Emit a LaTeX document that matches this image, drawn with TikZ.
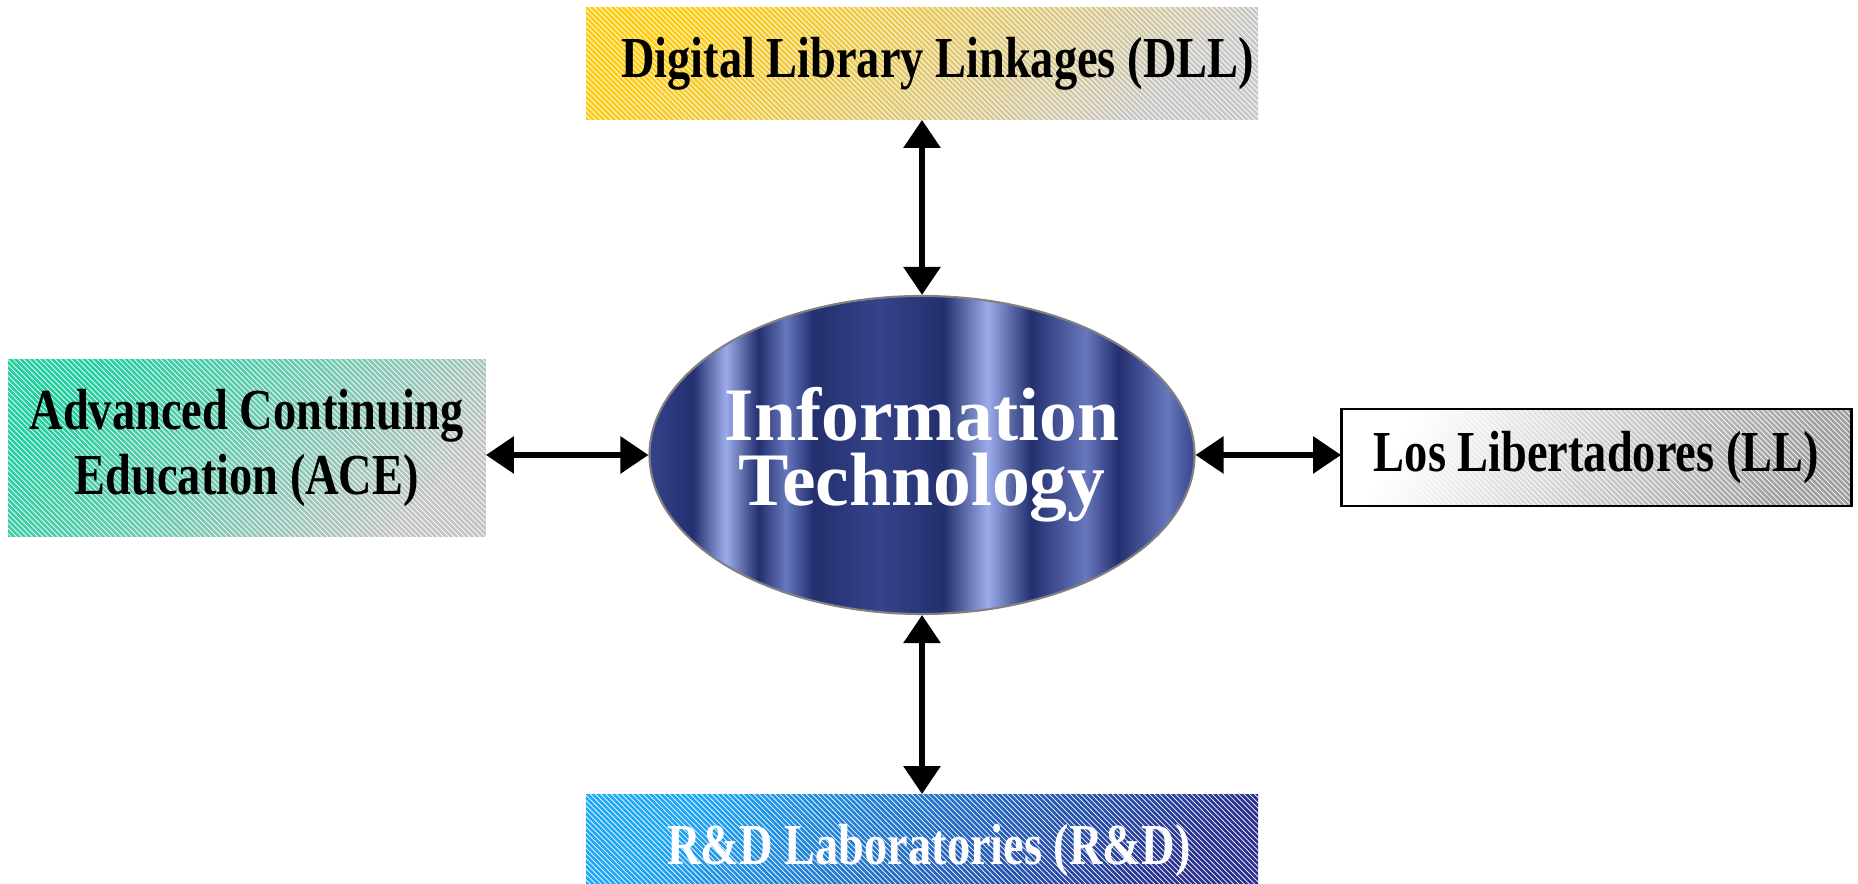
\documentclass[tikz,border=0pt]{standalone}
\usepackage{fontspec}
\newfontfamily\boxfont{Liberation Serif}[FakeStretch=0.80]
\newfontfamily\ovalfont{Liberation Serif}
\usetikzlibrary{arrows.meta,shapes.geometric,positioning,patterns}

\definecolor{itbase}{HTML}{35438A}
\definecolor{itdark}{HTML}{232F6E}
\definecolor{itmid}{HTML}{6878BE}
\definecolor{itlight}{HTML}{9CACEA}
\definecolor{dllgold}{HTML}{FFCC11}
\definecolor{dllgrey}{HTML}{C8C8C8}
\definecolor{aceteal}{HTML}{22D0A0}
\definecolor{acegrey}{HTML}{C4C4C4}
\definecolor{rdblue}{HTML}{1EA8F8}
\definecolor{rdnavy}{HTML}{2A3090}

\pgfdeclarehorizontalshading{itstreaks}{100bp}{color(0bp)=(itbase); color(25bp)=(itbase); color(29bp)=(itdark); color(32bp)=(itlight); color(35bp)=(itdark); color(37.5bp)=(itmid); color(40bp)=(itdark); color(46bp)=(itbase); color(52bp)=(itdark); color(56bp)=(itlight); color(60bp)=(itdark); color(65bp)=(itmid); color(68bp)=(itdark); color(72.5bp)=(itmid); color(75bp)=(itbase); color(100bp)=(itbase)}

\begin{document}
\begin{tikzpicture}[>={Triangle[length=5.6mm,width=7.2mm]}]

    \tikzstyle{unit} = [rectangle, minimum height=2.24cm, inner sep=0pt, text centered, align=center, font=\boxfont\bfseries\fontsize{33}{37}\selectfont]
    \tikzstyle{texture} = [postaction={pattern=north west lines, pattern color=white, fill opacity=0.16}]
    \tikzstyle{oval} = [ellipse, minimum width=10.9cm, minimum height=6.36cm, inner sep=0pt, shading=itstreaks, draw=gray, line width=1.2pt]
    \tikzstyle{ovaltext} = [text=white, align=center, font=\ovalfont\bfseries\fontsize{43}{37}\selectfont]
    \tikzstyle{link} = [<->, line width=3.4pt, black]

    \clip (0,0) rectangle (37.16,17.68);

    \node (IT)  [oval]  at (18.44,8.58)  {};
    \node (ITlabel) [ovaltext] at (IT)   {Information\\Technology};

    \node (DLL) [unit, texture, top color=dllgold, bottom color=dllgrey, shading angle=40, minimum width=13.44cm, above=3.5cm of IT]   {\hspace*{0.62cm}Digital Library Linkages (DLL)};
    \node (RD)  [unit, texture, top color=rdblue, bottom color=rdnavy, shading angle=45, text=white, minimum width=13.44cm, below=3.58cm of IT]   {\hspace*{0.28cm}R\&D Laboratories (R\&D)};

    \node (ACE) [unit, texture, top color=aceteal, bottom color=acegrey, shading angle=45, minimum width=9.55cm, minimum height=3.54cm, left=3.25cm of IT, yshift=0.13cm]   {Advanced Continuing\\Education (ACE)};
    \node (LL)  [unit, texture, top color=white, bottom color=gray!75, shading angle=60, postaction={draw=black, line width=1.4pt}, minimum width=10.2cm, minimum height=1.94cm, right=2.91cm of IT, yshift=-0.05cm]   {Los Libertadores (LL)};

    \path[link]  (DLL.south)  edge  (IT.north);
    \path[link]  (RD.north)   edge  (IT.south);
    \path[link]  (IT.west)    edge  (IT.west -| ACE.east);
    \path[link]  (IT.east)    edge  (IT.east -| LL.west);
\end{tikzpicture}
\end{document}
